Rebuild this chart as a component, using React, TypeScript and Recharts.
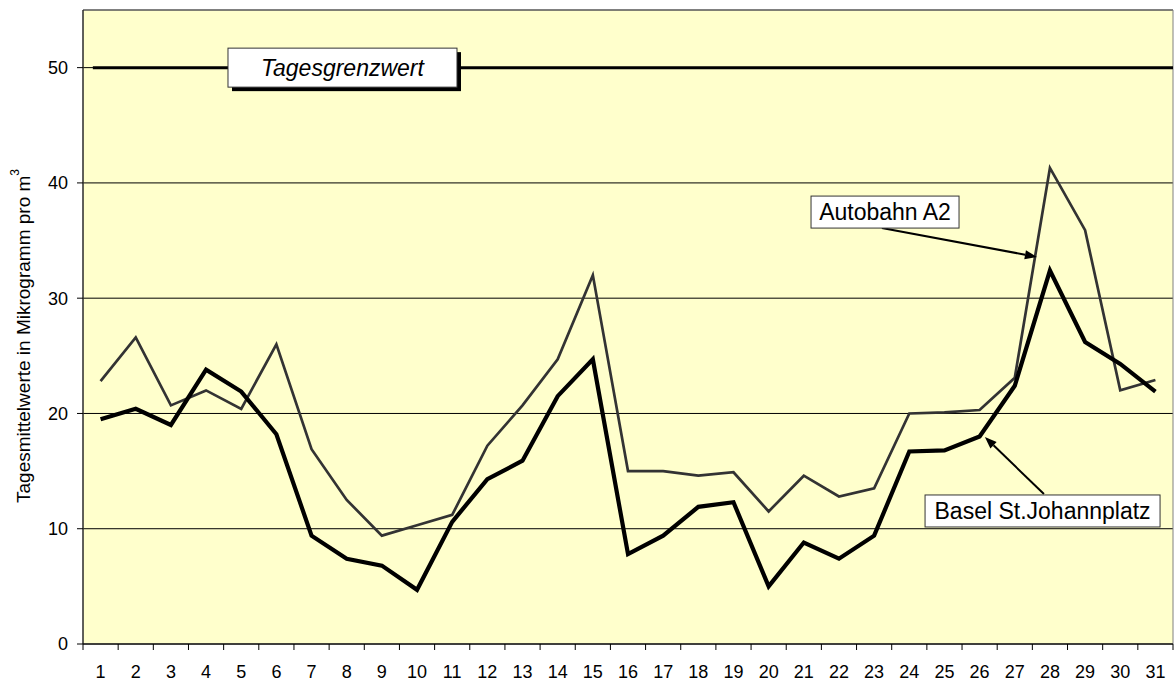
import { CartesianGrid, Line, LineChart, ReferenceArea, ReferenceDot, ReferenceLine, XAxis, YAxis } from 'recharts';

const days = [1, 2, 3, 4, 5, 6, 7, 8, 9, 10, 11, 12, 13, 14, 15, 16, 17, 18, 19, 20, 21, 22, 23, 24, 25, 26, 27, 28, 29, 30, 31];
const autobahn = [22.8, 26.6, 20.7, 22.0, 20.4, 26.0, 16.9, 12.5, 9.4, 10.3, 11.2, 17.2, 20.7, 24.7, 32.0, 15.0, 15.0, 14.6, 14.9, 11.5, 14.6, 12.8, 13.5, 20.0, 20.1, 20.3, 23.1, 41.3, 35.9, 22.0, 22.9];
const basel = [19.5, 20.4, 19.0, 23.8, 21.9, 18.2, 9.4, 7.4, 6.8, 4.7, 10.6, 14.3, 15.9, 21.5, 24.7, 7.8, 9.4, 11.9, 12.3, 5.0, 8.8, 7.4, 9.4, 16.7, 16.8, 18.0, 22.4, 32.4, 26.2, 24.3, 21.9];
const yTicks = [0, 10, 20, 30, 40, 50];
const limit = 50;

const FONT = '"Liberation Sans", Arial, sans-serif';
const W = 1174;
const H = 681;
const PLOT_W = 1090;
const STEP = PLOT_W / days.length;

const data = days.map((d, i) => ({ day: d, autobahn: autobahn[i], basel: basel[i] }));

function DayTick({ x, y, payload, index }: any) {
  const left = x - STEP / 2;
  return (
    <g>
      <line x1={left} y1={y} x2={left} y2={y + 6} stroke="#000" />
      {index === days.length - 1 && <line x1={x + STEP / 2} y1={y} x2={x + STEP / 2} y2={y + 6} stroke="#000" />}
      <text x={x} y={y + 34} textAnchor="middle" fontSize={18} fontFamily={FONT} fill="#000">
        {payload.value}
      </text>
    </g>
  );
}

function YLabel({ viewBox }: any) {
  const cx = viewBox.x + 25;
  const cy = viewBox.y + viewBox.height / 2 + 9;
  return (
    <text x={cx} y={cy} transform={`rotate(-90 ${cx} ${cy})`} textAnchor="middle" dominantBaseline="middle" fontSize={19} fontFamily={FONT} fill="#000">
      Tagesmittelwerte in Mikrogramm pro m
      <tspan dy={-9} fontSize={12}>3</tspan>
    </text>
  );
}

function boxShape(text: string, w: number, h: number, italic: boolean, shadow: boolean) {
  return ({ cx, cy }: any) => (
    <g>
      {shadow && <rect x={cx - w / 2 + 4} y={cy - h / 2 + 4} width={w} height={h} fill="#000" />}
      <rect x={cx - w / 2} y={cy - h / 2} width={w} height={h} fill="#fff" stroke="#333" strokeWidth={1} />
      <text x={cx} y={cy} textAnchor="middle" dominantBaseline="central" fontSize={23} fontStyle={italic ? 'italic' : 'normal'} fontFamily={FONT} fill="#000">
        {text}
      </text>
    </g>
  );
}

function Arrow({ x1, y1, x2, y2 }: any) {
  const a = Math.atan2(y2 - y1, x2 - x1);
  const len = 12;
  const hw = 4.5;
  const bx = x2 - len * Math.cos(a);
  const by = y2 - len * Math.sin(a);
  const px = -Math.sin(a) * hw;
  const py = Math.cos(a) * hw;
  return (
    <g>
      <line x1={x1} y1={y1} x2={bx} y2={by} stroke="#000" strokeWidth={2} />
      <polygon points={`${x2},${y2} ${bx + px},${by + py} ${bx - px},${by - py}`} fill="#000" />
    </g>
  );
}

export default function App() {
  return (
    <div style={{ position: 'absolute', left: 0, top: 0, background: '#fff' }}>
      <LineChart width={W} height={H} data={data} margin={{ top: 10, right: 1, bottom: 0, left: 0 }}>
        <CartesianGrid vertical={false} stroke="#000" fill="#FFFFCC" />
        <ReferenceArea x1={0.5} x2={31.5} y1={0} y2={55} fill="none" stroke="#808080" strokeWidth={1} ifOverflow="visible" />
        <XAxis
          type="number"
          dataKey="day"
          domain={[0.5, 31.5]}
          ticks={days}
          interval={0}
          height={37}
          tickLine={false}
          tickSize={0}
          tickMargin={0}
          axisLine={{ stroke: '#000' }}
          tick={<DayTick />}
        />
        <YAxis
          type="number"
          domain={[0, 55]}
          ticks={yTicks}
          width={83}
          tickSize={6}
          tickMargin={9}
          axisLine={{ stroke: '#000' }}
          tickLine={{ stroke: '#000' }}
          tick={{ fontSize: 18, fontFamily: FONT, fill: '#000' }}
          label={<YLabel />}
        />
        <ReferenceLine segment={[{ x: 0.78, y: limit }, { x: 31.5, y: limit }]} stroke="#000" strokeWidth={3} ifOverflow="visible" />
        <Line dataKey="autobahn" stroke="#333333" strokeWidth={2.7} dot={false} isAnimationActive={false} />
        <Line dataKey="basel" stroke="#000000" strokeWidth={4.2} dot={false} isAnimationActive={false} />
        <ReferenceDot x={7.88} y={limit} r={1} ifOverflow="visible" shape={boxShape('Tagesgrenzwert', 229, 39, true, true)} />
        <ReferenceDot x={23.31} y={37.47} r={1} ifOverflow="visible" shape={boxShape('Autobahn A2', 148, 32, false, false)} />
        <ReferenceDot x={27.79} y={11.54} r={1} ifOverflow="visible" shape={boxShape('Basel St.Johannplatz', 235, 32, false, false)} />
        <ReferenceLine segment={[{ x: 23.22, y: 36.09 }, { x: 27.63, y: 33.58 }]} ifOverflow="visible" shape={<Arrow />} />
        <ReferenceLine segment={[{ x: 27.83, y: 13.01 }, { x: 26.15, y: 17.96 }]} ifOverflow="visible" shape={<Arrow />} />
      </LineChart>
    </div>
  );
}
